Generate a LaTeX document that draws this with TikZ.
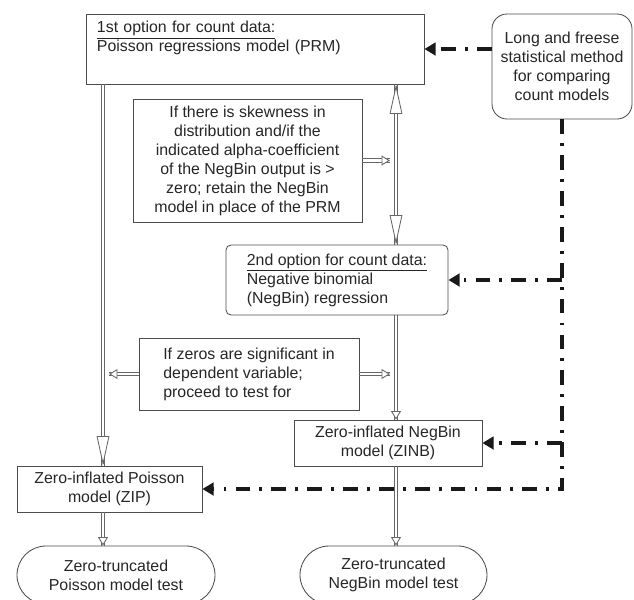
\documentclass[tikz,border=0pt]{standalone}
\usepackage{fontspec}
\setmainfont{Liberation Sans}
\usetikzlibrary{arrows.meta,shapes.misc,calc}

\newlength\pix
\setlength\pix{0.025cm}

\tikzset{
  box/.style={draw=black!70, line width=0.6pt, text=black!85,
    font=\fontsize{11.3}{13.5}\selectfont, inner sep=0pt, align=center},
  dashlink/.style={line width=2.9pt, black!90,
    dash pattern=on 10.5pt off 6.5pt on 2pt off 6.5pt,
    -{Triangle[length=8pt,width=9pt]}},
  shaft/.style={draw=black!60, line width=0.6pt},
  vl/.style={shaft, transform canvas={xshift=-#1}},
  vr/.style={shaft, transform canvas={xshift=#1}},
  hu/.style={shaft, transform canvas={yshift=#1}},
  hd/.style={shaft, transform canvas={yshift=-#1}},
  tipline/.style={draw=black!60, line width=0.6pt},
  longtip/.tip={Triangle[open,fill=white,length=21pt,width=9pt]},
  smalltip/.tip={Triangle[open,fill=white,length=6pt,width=7pt]},
}

\begin{document}
\begin{tikzpicture}[x=0.025cm,y=-0.025cm]
  \useasboundingbox (0,0) rectangle (634,600);
  \clip (0,0) rectangle (634,600);

  % columns of the double arrows
  \coordinate (spine) at (396,0);
  \coordinate (lspine) at (103,0);

  \node[box, align=left, text width=316*\pix, inner xsep=11*\pix,
        minimum height=70*\pix] (prm) at (255,49)
        {\underline{1st option for count data:}\\ Poisson regressions model (PRM)\\ \strut};
  \node[box, rounded corners=15*\pix, minimum width=140*\pix,
        minimum height=105*\pix] (long) at (562,66.5)
        {Long and freese\\ statistical method\\ for comparing\\ count models};
  \node[box, minimum width=229*\pix, minimum height=123*\pix] (skew) at (247.5,160.5)
        {If there is skewness in\\ distribution and/if the\\ indicated alpha-coefficient\\
         of the NegBin output is >\\ zero; retain the NegBin\\ model in place of the PRM};
  \node[box, align=left, rounded corners=5*\pix, minimum width=222*\pix,
        minimum height=70*\pix] (nb) at (337,280)
        {\underline{2nd option for count data:}\\ Negative binomial\\ (NegBin) regression};
  \node[box, align=left, minimum width=220*\pix, minimum height=72*\pix] (zeros) at (249,374)
        {If zeros are significant in\\ dependent variable;\\ proceed to test for};
  \node[box, minimum width=188*\pix, minimum height=46*\pix] (zinb) at (388,443)
        {Zero-inflated NegBin\\ model (ZINB)};
  \node[box, minimum width=185*\pix, minimum height=46*\pix] (zip) at (109.5,489)
        {Zero-inflated Poisson\\ model (ZIP)};
  \node[box, rounded rectangle, minimum width=198*\pix, minimum height=58*\pix] (ztp) at (116,575)
        {Zero-truncated\\ Poisson model test};
  \node[box, rounded rectangle, minimum width=187*\pix, minimum height=58*\pix] (ztn) at (393.5,575)
        {Zero-truncated\\ NegBin model test};

  % ends of the double arrows
  \coordinate (skewend) at ($(skew.east -| spine)+(-6,0)$);
  \coordinate (zleft) at ($(zeros.west -| lspine)+(6,0)$);
  \coordinate (zright) at ($(zeros.east -| spine)+(-6,0)$);

  % double shafts, two thin lines each
  \draw[vl=1.2pt] (prm.south -| spine) -- (nb.north -| spine);
  \draw[vr=1.2pt] (prm.south -| spine) -- (nb.north -| spine);
  \draw[vl=0.9pt] (nb.south -| spine) -- (zinb.north -| spine);
  \draw[vr=0.9pt] (nb.south -| spine) -- (zinb.north -| spine);
  \draw[vl=0.9pt] (zinb.south -| spine) -- (ztn.north -| spine);
  \draw[vr=0.9pt] (zinb.south -| spine) -- (ztn.north -| spine);
  \draw[vl=1.2pt] (prm.south -| lspine) -- (zip.north -| lspine);
  \draw[vr=1.2pt] (prm.south -| lspine) -- (zip.north -| lspine);
  \draw[vl=1.2pt] (zip.south -| lspine) -- (ztp.north -| lspine);
  \draw[vr=1.2pt] (zip.south -| lspine) -- (ztp.north -| lspine);
  \draw[hu=1.2pt] (skew.east) -- (skewend);
  \draw[hd=1.2pt] (skew.east) -- (skewend);
  \draw[hu=1.2pt] (zeros.west) -- (zleft);
  \draw[hd=1.2pt] (zeros.west) -- (zleft);
  \draw[hu=1.2pt] (zeros.east) -- (zright);
  \draw[hd=1.2pt] (zeros.east) -- (zright);

  % open arrow heads
  \draw[tipline, -{longtip}] ($(prm.south -| spine)+(0,2)$) -- (prm.south -| spine);
  \draw[tipline, -{longtip}] ($(nb.north -| spine)+(0,-2)$) -- (nb.north -| spine);
  \draw[tipline, -{longtip}] ($(zip.north -| lspine)+(0,-2)$) -- (zip.north -| lspine);
  \draw[tipline, -{smalltip}] ($(zinb.north -| spine)+(0,-2)$) -- (zinb.north -| spine);
  \draw[tipline, -{smalltip}] ($(ztn.north -| spine)+(0,-2)$) -- (ztn.north -| spine);
  \draw[tipline, -{smalltip}] ($(ztp.north -| lspine)+(0,-2)$) -- (ztp.north -| lspine);
  \draw[tipline, -{smalltip}] ($(skewend)+(-2,0)$) -- (skewend);
  \draw[tipline, -{smalltip}] ($(zleft)+(2,0)$) -- (zleft);
  \draw[tipline, -{smalltip}] ($(zright)+(-2,0)$) -- (zright);

  % dash-dot links from the method box
  \draw[dashlink] (prm.east -| long.west) -- (prm.east);
  \draw[dashlink] (long.south) |- (zip.east);
  \draw[dashlink] (long.south |- nb.east) -- (nb.east);
  \draw[dashlink] (long.south |- zinb.east) -- (zinb.east);
\end{tikzpicture}
\end{document}
